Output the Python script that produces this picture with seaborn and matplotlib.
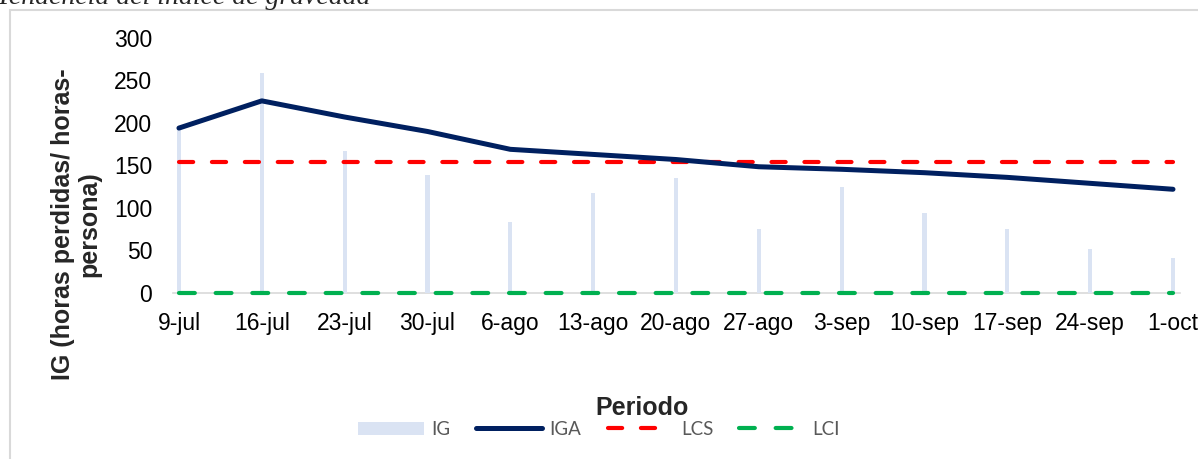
import numpy as np
import pandas as pd
import matplotlib
matplotlib.use('Agg')
import matplotlib.pyplot as plt
import seaborn as sns
from matplotlib.patches import Patch, Rectangle
from matplotlib.lines import Line2D

# Data
periodos = ['9-jul', '16-jul', '23-jul', '30-jul', '6-ago', '13-ago', '20-ago',
            '27-ago', '3-sep', '10-sep', '17-sep', '24-sep', '1-oct']
ig = [195, 259, 167, 139, 84, 118, 135, 75, 125, 94, 75, 52, 41]
iga = [194, 226, 207, 190, 169, 163, 157, 148.5, 145.5, 141.5, 136, 129, 122]
lcs = [154] * 13
lci = [0] * 13
y_ticks = [0, 50, 100, 150, 200, 250, 300]

df = pd.DataFrame({'periodo': periodos, 'IG': ig, 'IGA': iga, 'LCS': lcs, 'LCI': lci})
df['pos'] = np.arange(len(df))

C_IG = '#DAE3F3'
C_IGA = '#002060'
C_LCS = '#FF0000'
C_LCI = '#00B050'
LS_LCS = (0, (3.4, 4.5))
LS_LCI = (0, (3.8, 5.0))

sns.set_theme(style='white')
plt.rcParams['font.family'] = ['Liberation Sans', 'DejaVu Sans']

fig = plt.figure(figsize=(11.98, 4.59), dpi=100)
ax = fig.add_axes([0.1444, 0.3617, 0.8406, 0.5556])

sns.barplot(data=df, x='pos', y='IG', native_scale=True, orient='x', color=C_IG,
            saturation=1, width=0.05, linewidth=0, ax=ax, zorder=1)
sns.lineplot(data=df, x='pos', y='IGA', color=C_IGA, lw=3.6, ax=ax,
             solid_capstyle='round', solid_joinstyle='round', zorder=4)
sns.lineplot(data=df, x='pos', y='LCS', color=C_LCS, lw=3, linestyle=LS_LCS,
             dash_capstyle='round', ax=ax, zorder=3)
sns.lineplot(data=df, x='pos', y='LCI', color=C_LCI, lw=3, linestyle=LS_LCI,
             dash_capstyle='round', ax=ax, zorder=3, clip_on=False)

ax.set_xlim(-0.072, 12.085)
ax.set_ylim(0, 300)
ax.set_xticks(df['pos'])
ax.set_xticklabels(periodos)
ax.set_yticks(y_ticks)
ax.tick_params(axis='both', length=0, labelsize=16.5, colors='black')
ax.tick_params(axis='x', pad=14)
ax.tick_params(axis='y', pad=15)

for s in ['left', 'top', 'right']:
    ax.spines[s].set_visible(False)
ax.spines['bottom'].set_color('#D9D9D9')
ax.spines['bottom'].set_linewidth(1.2)
ax.spines['bottom'].set_zorder(0)

ax.set_xlabel('')
ax.set_ylabel('IG (horas perdidas/ horas-\npersona)', fontsize=18, fontweight='bold',
              va='center', ha='center', multialignment='center', linespacing=1.15)
ax.yaxis.set_label_coords(-0.0963, 0.27)

fig.text(642 / 1198, 1 - 408 / 459, 'Periodo', fontsize=18, fontweight='bold',
         ha='center', va='center')

# chart title (cut off at the top in the reference)
fig.text(-0.003, 0.992, 'Tendencia del índice de gravedad', family='Liberation Serif',
         style='italic', fontsize=20, va='baseline', ha='left')

# light grey chart border
fig.patches.append(Rectangle((10 / 1198, -0.05), 1.2, 449 / 459 + 0.05,
                             transform=fig.transFigure, fill=False,
                             edgecolor='#D9D9D9', lw=1.5))

handles = [
    Patch(facecolor=C_IG, edgecolor='none', label='IG'),
    Line2D([], [], color=C_IGA, lw=3.6, solid_capstyle='round', label='IGA'),
    Line2D([], [], color=C_LCS, lw=3, ls=LS_LCS, dash_capstyle='round', label='LCS'),
    Line2D([], [], color=C_LCI, lw=3, ls=LS_LCI, dash_capstyle='round', label='LCI'),
]
fig.legend(handles=handles, loc='center', bbox_to_anchor=(0.5, 0.065), ncol=4,
           frameon=False, prop={'family': 'Lato', 'size': 13.5}, labelcolor='#595959',
           handlelength=3.5, columnspacing=1.4, handletextpad=0.4)

fig.savefig('out.png', dpi=100, facecolor='white')
